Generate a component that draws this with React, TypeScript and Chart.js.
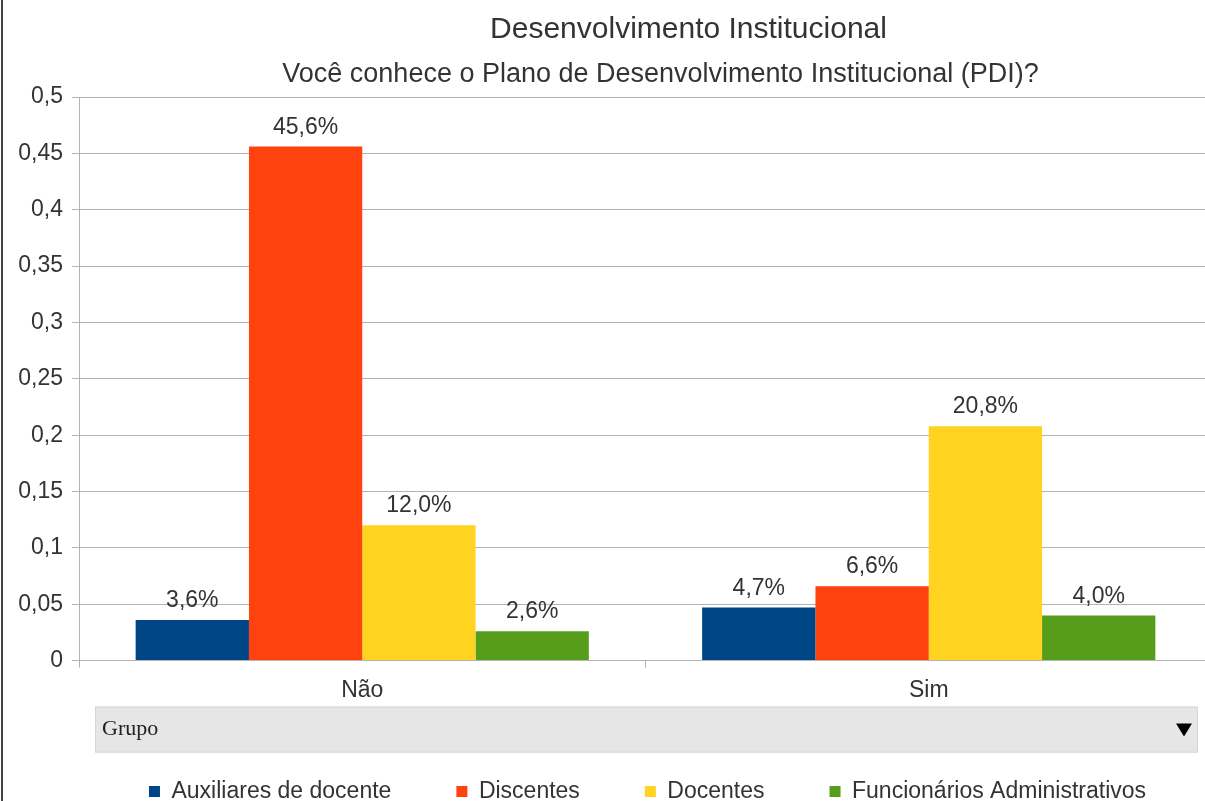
import React, { useEffect, useRef } from "react";
import { Chart, registerables } from "chart.js";

Chart.register(...registerables);

const TITLE = "Desenvolvimento Institucional";
const SUBTITLE = "Você conhece o Plano de Desenvolvimento Institucional (PDI)?";
const FIELD_LABEL = "Grupo";

const categories = ["Não", "Sim"];
const seriesNames = ["Auxiliares de docente", "Discentes", "Docentes", "Funcionários Administrativos"];
const auxiliares = [0.036, 0.047];
const discentes = [0.456, 0.066];
const docentes = [0.12, 0.208];
const funcionarios = [0.026, 0.04];
const seriesColors = ["#004586", "#ff420e", "#ffd320", "#579d1c"];
const yMin = 0;
const yMax = 0.5;
const yStep = 0.05;

const fmtTick = (v: number) => (v === 0 ? "0" : String(+v.toFixed(2)).replace(".", ","));
const fmtPct = (v: number) => (v * 100).toFixed(1).replace(".", ",") + "%";

const SANS = "'Liberation Sans', Arial, sans-serif";

const valueLabels = {
  id: "valueLabels",
  afterDatasetsDraw(chart: any) {
    const ctx = chart.ctx;
    ctx.save();
    ctx.font = `23px ${SANS}`;
    ctx.fillStyle = "#333333";
    ctx.textAlign = "center";
    ctx.textBaseline = "alphabetic";
    chart.data.datasets.forEach((ds: any, i: number) => {
      const meta = chart.getDatasetMeta(i);
      meta.data.forEach((bar: any, j: number) => {
        ctx.fillText(fmtPct(ds.data[j]), bar.x, bar.y - 13);
      });
    });
    ctx.restore();
  },
};

const fieldBar = {
  id: "fieldBar",
  afterDraw(chart: any) {
    const ctx = chart.ctx;
    const area = chart.chartArea;
    const xs = chart.scales.x;
    const left = area.left + 16;
    const right = area.right - 14;
    const top = xs.top + 46;
    const h = 46;
    ctx.save();
    ctx.fillStyle = "#e6e6e6";
    ctx.fillRect(left, top, right - left, h);
    ctx.strokeStyle = "#d6d6d6";
    ctx.lineWidth = 1;
    ctx.strokeRect(left + 0.5, top + 0.5, right - left - 1, h - 1);
    ctx.fillStyle = "#222222";
    ctx.font = "22px 'Liberation Serif', serif";
    ctx.textBaseline = "middle";
    ctx.textAlign = "left";
    ctx.fillText(FIELD_LABEL, left + 7, top + h / 2);
    ctx.beginPath();
    const cx = right - 14;
    const cy = top + h / 2;
    ctx.moveTo(cx - 8, cy - 6);
    ctx.lineTo(cx + 8, cy - 6);
    ctx.lineTo(cx, cy + 7);
    ctx.closePath();
    ctx.fillStyle = "#000000";
    ctx.fill();
    ctx.restore();
  },
};

const shiftBoxes = {
  id: "shiftBoxes",
  afterLayout(chart: any) {
    const area = chart.chartArea;
    const mid = (area.left + area.right) / 2;
    chart.boxes.forEach((b: any) => {
      const t = b.options && b.options.text;
      if (t === TITLE) {
        const w = b.right - b.left;
        const c = mid + 43;
        b.left = c - w / 2;
        b.right = c + w / 2;
      } else if (t === SUBTITLE) {
        const w = b.right - b.left;
        const c = mid + 15;
        b.left = c - w / 2;
        b.right = c + w / 2;
      } else if (b === chart.legend) {
        const w = b.right - b.left;
        b.left = mid - w / 2 + 2;
        b.right = mid + w / 2 + 2;
      }
    });
  },
};

export default function App() {
  const ref = useRef<HTMLCanvasElement | null>(null);
  useEffect(() => {
    if (!ref.current) return;
    const seriesData = [auxiliares, discentes, docentes, funcionarios];
    const chart = new Chart(ref.current, {
      type: "bar",
      data: {
        labels: categories,
        datasets: seriesNames.map((name, i) => ({
          label: name,
          data: seriesData[i],
          backgroundColor: seriesColors[i],
          borderWidth: 0,
          categoryPercentage: 0.8,
          barPercentage: 1.0,
        })),
      },
      options: {
        responsive: false,
        animation: false,
        devicePixelRatio: 1,
        layout: { padding: { top: 0, right: 2, bottom: 0, left: 0 } },
        scales: {
          x: {
            offset: true,
            grid: { drawOnChartArea: false, drawTicks: true, tickLength: 7, color: "#b3b3b3" },
            border: { display: true, color: "#b3b3b3" },
            ticks: { font: { size: 23, family: SANS }, color: "#333333", padding: 9 },
            title: { display: true, text: "", font: { size: 1 }, padding: { top: 0, bottom: 0.6 } },
          },
          y: {
            min: yMin,
            max: yMax,
            afterFit: (s: any) => {
              s.width = 79;
            },
            ticks: {
              stepSize: yStep,
              callback: (v: any) => fmtTick(Number(v)),
              font: { size: 23, family: SANS },
              color: "#333333",
              padding: 9,
            },
            grid: { color: "#b3b3b3", tickLength: 7 },
            border: { display: true, color: "#b3b3b3" },
          },
        },
        plugins: {
          title: {
            display: true,
            text: TITLE,
            color: "#333333",
            font: { size: 30, family: SANS, weight: "normal" },
            padding: { top: 12, bottom: 10.8 },
          },
          subtitle: {
            display: true,
            text: SUBTITLE,
            color: "#333333",
            font: { size: 27, family: SANS, weight: "normal" },
            padding: { top: 0, bottom: 5.8 },
          },
          legend: {
            position: "bottom",
            labels: {
              boxWidth: 11,
              boxHeight: 11,
              padding: 65,
              color: "#333333",
              font: { size: 23, family: SANS },
            },
          },
          tooltip: { enabled: false },
        },
      },
      plugins: [valueLabels, fieldBar, shiftBoxes],
    } as any);
    return () => chart.destroy();
  }, []);

  return (
    <div
      style={{
        position: "fixed",
        left: 0,
        top: 0,
        width: 1205,
        height: 801,
        overflow: "hidden",
        background: "#ffffff",
      }}
    >
      <canvas ref={ref} width={1214} height={813} style={{ display: "block" }} />
      <div
        style={{
          position: "absolute",
          left: 1,
          top: 0,
          width: 2,
          height: 801,
          background: "#444444",
        }}
      />
    </div>
  );
}
